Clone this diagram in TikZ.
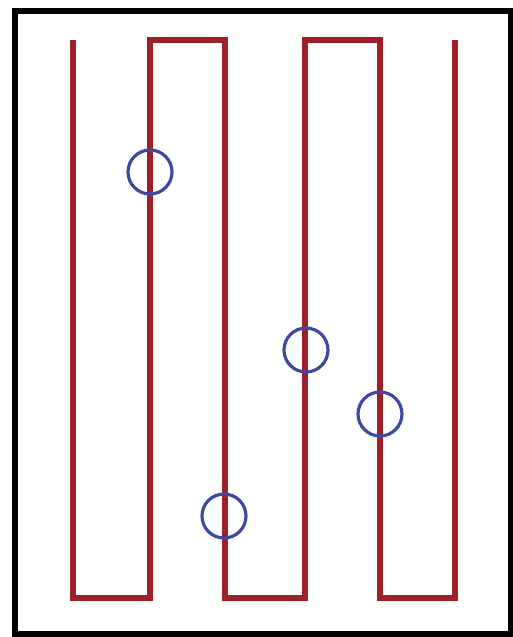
\documentclass[tikz,border=0pt]{standalone}
\definecolor{pathred}{RGB}{158,32,40}
\definecolor{ringblue}{RGB}{62,72,160}
\begin{document}
\begin{tikzpicture}[x=0.02cm,y=-0.02cm]
      \tikzset{ring/.style={circle, draw=ringblue, line width=1.8pt, minimum size=0.88cm, inner sep=0pt}}
      \useasboundingbox (0,0) rectangle (513,637);
      \draw[line width=2.9pt] (15,11) rectangle (511,634);
      % serpentine route
      \draw[pathred, line width=3.4pt, line join=miter]
        (73,40) -- (73,598) -- (150,598) -- (150,40) -- (225,40) -- (225,598)
        -- (305,598) -- (305,40) -- (380,40) -- (380,598) -- (455,598) -- (455,40);
      \node[ring] (r1) at (150,172) {};
      \node[ring] (r2) at (306,350) {};
      \node[ring] (r3) at (380,414) {};
      \node[ring] (r4) at (224,516) {};
    \end{tikzpicture}
\end{document}
